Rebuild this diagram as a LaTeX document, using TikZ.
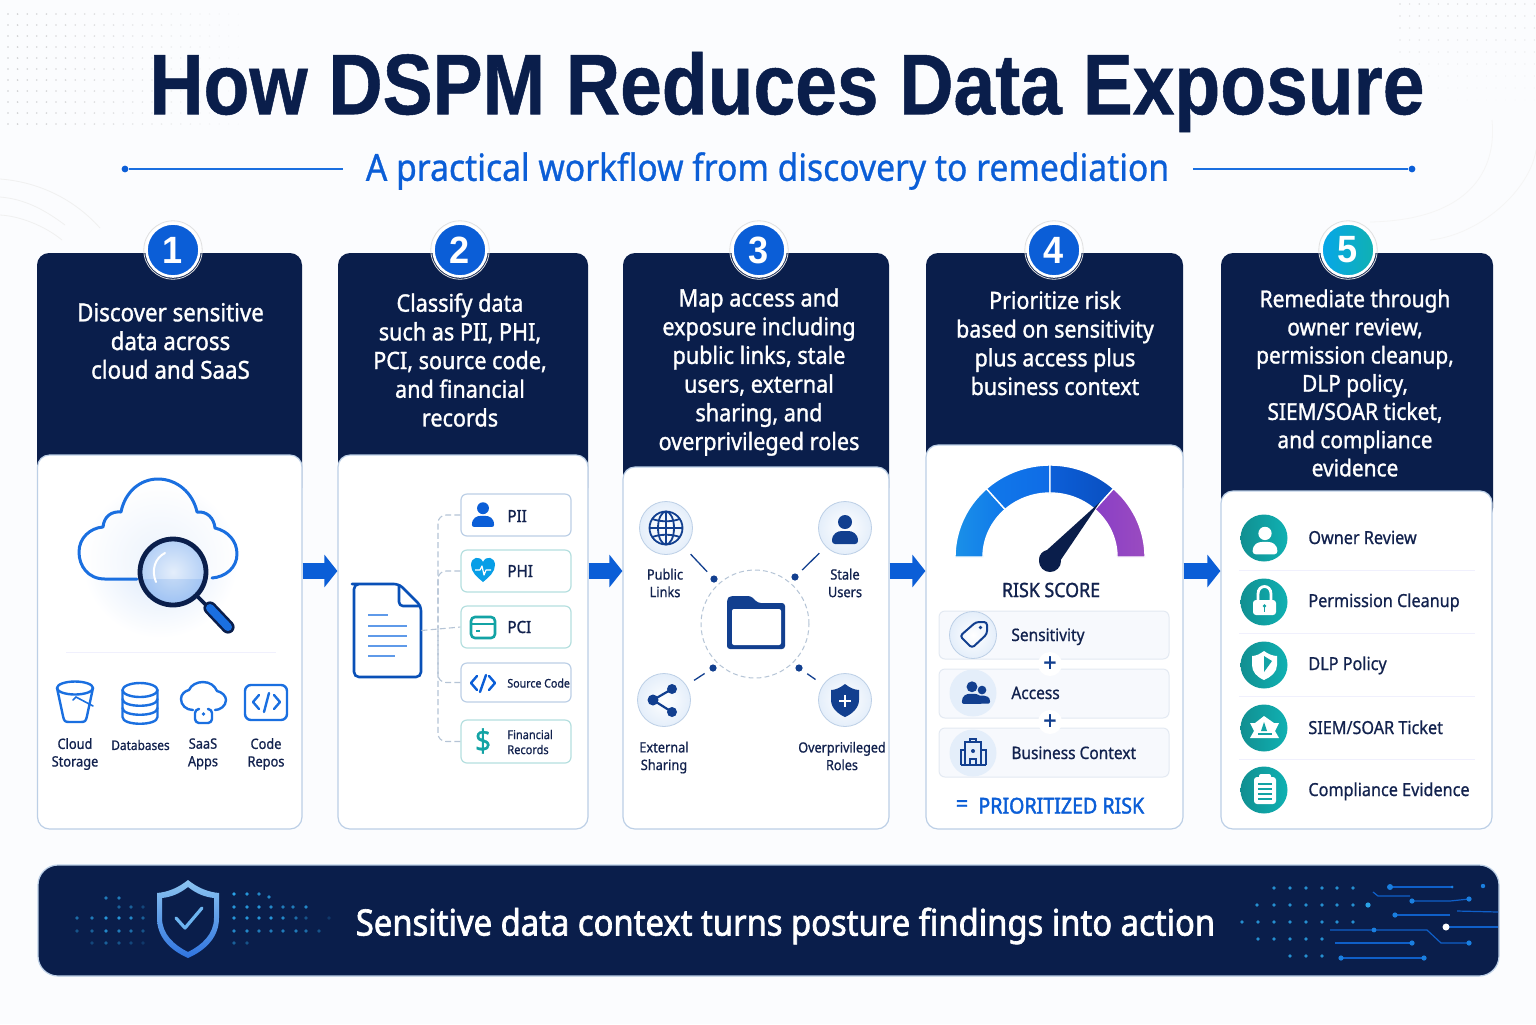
\documentclass[tikz,border=0pt]{standalone}
\usepackage{fontspec}
\usetikzlibrary{arrows.meta,fit,calc}
\newfontfamily\rf[FakeStretch=.9,FakeBold=.8]{Noto Sans}
\newfontfamily\mf[FakeStretch=.9,FakeBold=1.3]{Noto Sans}
\newfontfamily\hf[FakeStretch=.9,FakeBold=1.9]{Noto Sans}
\newfontfamily\tfam[FakeStretch=.872,FakeBold=.6]{Liberation Sans}
\newfontfamily\bfam[FakeStretch=.95]{Liberation Sans}
\definecolor{navy}{HTML}{0A1E4B}
\definecolor{ink}{HTML}{12224E}
\definecolor{blu}{HTML}{0B5ED7}
\definecolor{mid}{HTML}{1A6FE0}
\definecolor{deep}{HTML}{123F8F}
\definecolor{teal2}{HTML}{13A3A5}
\definecolor{edge}{HTML}{BCCFE6}
\definecolor{dashg}{HTML}{B5C4D6}
\definecolor{bg}{HTML}{FBFCFE}
\definecolor{pale}{HTML}{E4EEFA}
\definecolor{rowfill}{HTML}{F7F9FD}
\definecolor{rowedge}{HTML}{E3E9F2}
\definecolor{tealb}{HTML}{B5DFDF}
\definecolor{circ}{HTML}{0F5FC8}
\definecolor{circd}{HTML}{1A7FE0}
\definecolor{dotb}{HTML}{2AA3E8}
\definecolor{chk}{HTML}{6DB5F0}
\definecolor{shtop}{HTML}{8CC4F0}
\definecolor{shbot}{HTML}{2F74E0}
\definecolor{lensi}{HTML}{E4EEFB}
\definecolor{lenso}{HTML}{B4D0F6}
\definecolor{glow}{HTML}{D9E7FA}
\definecolor{gA}{HTML}{1A90E8}
\definecolor{gB}{HTML}{1078EA}
\definecolor{gC}{HTML}{0F6CE6}
\definecolor{gD}{HTML}{0C5FD8}
\definecolor{gE}{HTML}{0A4FC0}
\definecolor{gF}{HTML}{8A3FC6}
\definecolor{gG}{HTML}{9A4BC0}
\tikzset{
 x=0.5pt,y=-0.5pt,
 hdr/.style={inner sep=0pt,fill=navy,rounded corners=6pt},
 bodybox/.style={inner sep=0pt,fill=white,draw=edge,line width=.6pt,rounded corners=6pt},
 badge/.style={circle,minimum size=26.5pt,inner sep=0pt,draw=white,line width=1.3pt,text=white,font=\bfam\bfseries\fontsize{19}{21}\selectfont},
 ring/.style={draw=black!12,line width=.4pt},
 htext/.style={inner sep=0pt,align=center,text=white,font=\mf\fontsize{#1}{14.35}\selectfont},
 htext/.default=12.4,
 flow/.style={draw=blu,line width=8pt,-{Triangle[length=6.5pt,width=16pt]}},
 small/.style={inner sep=0pt,align=center,text=ink,font=\rf\fontsize{7.1}{8.8}\selectfont},
 rowt/.style={inner sep=0pt,anchor=base west,text=ink,font=\rf\fontsize{9}{11}\selectfont},
 ic/.style={line width=1.2pt,line cap=round,line join=round},
 tagbox/.style={inner sep=0pt,fill=white,line width=.6pt,rounded corners=3pt},
 dashc/.style={draw=dashg,line width=.55pt,dash pattern=on 3pt off 1.6pt,rounded corners=4pt},
 halo/.style={circle,inner sep=0pt,minimum size=26.5pt,draw=edge,line width=.4pt,inner color=white,outer color=pale},
 rowbox/.style={inner sep=0pt,fill=rowfill,draw=rowedge,line width=.5pt,rounded corners=3pt},
 tealc/.style={circle,inner sep=0pt,minimum size=23.5pt,left color=teal2!88!black,right color=teal2!85!cyan},
 spoke/.style={draw=deep,line width=.65pt,shorten <=4.5pt,shorten >=3pt},
 dott/.style={circle,inner sep=0pt,minimum size=3.6pt,fill=deep},
 sepl/.style={draw=black!14!blue!6!white,line width=.45pt},
 cline/.style={draw=circ,line width=.6pt},
}
\newcommand{\person}[5]{\begin{scope}[shift={(#1,#2)},scale=#3]
 \fill[#4] (0,-8) circle[radius=7];
 \fill[#4,rounded corners=#5] (-13,14) .. controls (-13,3) and (-7,1) .. (0,1) .. controls (7,1) and (13,3) .. (13,14) -- cycle;
\end{scope}}
\newcommand{\gseg}[4]{\shade[left color=#3,right color=#4,draw=white,line width=.7pt]
 plot[domain=#1:#2,samples=24] ({1050+95*cos(\x)},{557+92*sin(\x)}) --
 plot[domain=#2:#1,samples=24] ({1050+67*cos(\x)},{557+64*sin(\x)}) -- cycle;}
\begin{document}
\begin{tikzpicture}
\useasboundingbox (0,0) rectangle (1536,1024);
\fill[bg] (0,0) rectangle (1536,1024);
% --- faint background texture
\foreach \xx in {8,17.6,...,240}{\foreach \yy in {14,25,...,130}{
  \pgfmathsetmacro\op{max(0,.42*(1-\xx/250))}
  \fill[black!45,opacity=\op] (\xx,\yy) circle[radius=.9];}}
\foreach \xx in {1400,1409.6,...,1536}{\foreach \yy in {4,16,...,100}{
  \pgfmathsetmacro\op{max(0,.3*(1-\yy/105))}
  \fill[black!45,opacity=\op] (\xx,\yy) circle[radius=.8];}}
\draw[black!6,line width=.4pt] (0,179) .. controls (40,182) and (75,200) .. (100,228);
\draw[black!6,line width=.4pt] (0,197) .. controls (25,199) and (45,210) .. (65,225);
\draw[black!6,line width=.4pt] (0,215) .. controls (20,216) and (45,226) .. (62,240);
\draw[black!4,line width=.4pt] (1492,120) .. controls (1497,170) and (1470,220) .. (1370,222);
\draw[black!4,line width=.4pt] (1536,150) .. controls (1530,190) and (1480,235) .. (1430,240);
% --- title
\node[inner sep=0pt,text=navy,font=\tfam\bfseries\fontsize{43}{50}\selectfont] (title) at (787,92) {How DSPM Reduces Data Exposure};
\node[inner sep=0pt,text=blu,font=\rf\fontsize{18.7}{22}\selectfont] (sub) at (767.5,171) {A practical workflow from discovery to remediation};
\node[circle,fill=blu,inner sep=0pt,minimum size=3.4pt] (dl) at (125,169) {};
\node[circle,fill=blu,inner sep=0pt,minimum size=3.4pt] (dr) at (1412,169) {};
\coordinate (ll) at (343,169); \coordinate (lr) at (1193,169);
\draw[mid,line width=.6pt] (dl) -- (ll);
\draw[mid,line width=.6pt] (lr) -- (dr);
% --- cards
\node[hdr,fit={(37,253)(302,500)}] (h1) {};
\node[hdr,fit={(338,253)(588,500)}] (h2) {};
\node[hdr,fit={(623,253)(889,500)}] (h3) {};
\node[hdr,fit={(926,253)(1183,500)}] (h4) {};
\node[hdr,fit={(1221,253)(1493,520)}] (h5) {};
\node[bodybox,fit={(37.5,455)(302,829)}] (card1) {};
\node[bodybox,fit={(338,455)(588,829)}] (card2) {};
\node[bodybox,fit={(623,467)(889,829)}] (card3) {};
\node[bodybox,fit={(926,445)(1183,829)}] (card4) {};
\node[bodybox,fit={(1221,491)(1492,829)}] (card5) {};
\foreach \bx in {173,460,759,1054,1348}{
  \draw[ring] (\bx,250) circle[radius=29.2];
}
\node[badge,fill=blu] (b1) at (173,250) {1};
\node[badge,fill=blu] (b2) at (460,250) {2};
\node[badge,fill=blu] (b3) at (759,250) {3};
\node[badge,fill=blu] (b4) at (1054,250) {4};
\node[badge,left color=blu!55!cyan,right color=teal2!85!cyan] (b5) at (1348,250) {5};
\node[htext=12.4] (t1) at (170.5,341) {Discover sensitive\\data across\\cloud and SaaS};
\node[htext=12] (t2) at (460,360) {Classify data\\such as PII, PHI,\\PCI, source code,\\and financial\\records};
\node[htext=12] (t3) at (759,372) {Map access and\\exposure including\\public links, stale\\users, external\\sharing, and\\overprivileged roles};
\node[htext=11.9] (t4) at (1055,343) {Prioritize risk\\based on sensitivity\\plus access plus\\business context};
\node[htext=11.6,font=\mf\fontsize{11.6}{14.1}\selectfont] (t5) at (1355,383) {Remediate through\\owner review,\\permission cleanup,\\DLP policy,\\SIEM/SOAR ticket,\\and compliance\\evidence};
% --- arrows
\coordinate (ay) at (0,571);
\draw[flow] (card1.east |- ay) -- (card2.west |- ay);
\draw[flow] (card2.east |- ay) -- (card3.west |- ay);
\draw[flow] (card3.east |- ay) -- (card4.west |- ay);
\draw[flow] (card4.east |- ay) -- (card5.west |- ay);
% --- card 1 art
\shade[inner color=glow,outer color=white,draw=none] (160,560) circle[radius=78];
\fill[white,opacity=.5] (105,579) .. controls (88,579) and (79,566) .. (79,552) .. controls (79,538) and (90,528) .. (103,527) .. controls (104,516) and (112,511) .. (121,512) .. controls (125,492) and (140,479) .. (158,479) .. controls (177,479) and (193,493) .. (197,512) .. controls (207,511) and (214,518) .. (215,528) .. controls (228,531) and (237,541) .. (237,554) .. controls (237,568) and (225,577) .. (212,578) -- cycle;
\draw[mid,line width=1.5pt,line cap=round,line join=round] (137,579) -- (105,579) .. controls (88,579) and (79,566) .. (79,552) .. controls (79,538) and (90,528) .. (103,527) .. controls (104,516) and (112,511) .. (121,512) .. controls (125,492) and (140,479) .. (158,479) .. controls (177,479) and (193,493) .. (197,512) .. controls (207,511) and (214,518) .. (215,528) .. controls (228,531) and (237,541) .. (237,554) .. controls (237,568) and (225,577) .. (212,578);
\shade[inner color=lensi,outer color=lenso,draw=none] (173,572) circle[radius=32];
\fill[mid,opacity=.13] (143,579) -- (203,579) .. controls (200,592) and (188,604) .. (173,604) .. controls (158,604) and (146,592) .. (143,579) -- cycle;
\draw[white,line width=1pt,line cap=round] (165,553) .. controls (155,558) and (151,570) .. (156,582);
\draw[navy,line width=2.4pt] (173,572) circle[radius=33];
\draw[navy,line width=1.8pt] (197,596) -- (208,607);
\draw[navy,line width=6.6pt,line cap=round] (210,608) -- (228,627);
\draw[mid,line width=4pt,line cap=round] (210,608) -- (228,627);
\draw[sepl] (66,652) -- (276,652);
% bucket
\draw[mid,ic] (75,688) ellipse[x radius=18,y radius=6.5];
\draw[mid,ic] (57,688) -- (63,716) .. controls (64,721) and (65,722) .. (69,722) -- (81,722) .. controls (85,722) and (86,721) .. (87,716) -- (93,688);
\draw[mid,line width=.8pt,line cap=round] (73,700) -- (76,697) -- (93,706);
% database
\draw[mid,ic] (140,690) ellipse[x radius=17.5,y radius=7];
\draw[mid,ic] (122.5,690) -- (122.5,717) .. controls (122.5,726) and (157.5,726) .. (157.5,717) -- (157.5,690);
\draw[mid,ic] (122.5,699) .. controls (122.5,708) and (157.5,708) .. (157.5,699);
\draw[mid,ic] (122.5,708) .. controls (122.5,717) and (157.5,717) .. (157.5,708);
% saas
\draw[mid,ic] (193,710) .. controls (186,710) and (181,705) .. (181,699) .. controls (181,694) and (185,691) .. (189,690) .. controls (191,685) and (197,682) .. (203,682) .. controls (210,682) and (215,686) .. (217,691) .. controls (222,692) and (226,696) .. (226,700) .. controls (226,706) and (220,710) .. (215,710);
\draw[mid,ic,rounded corners=2pt] (198,709) -- (195,709) -- (195,723) -- (212,723) -- (212,709) -- (209,709);
\fill[mid] (203.5,714) circle[radius=1.8];
% code
\draw[mid,ic,rounded corners=3pt] (245,685) rectangle (287,720);
\draw[mid,ic] (259,695) -- (253,702) -- (259,709);
\draw[mid,ic] (274,695) -- (280,702) -- (274,709);
\draw[mid,ic] (269,693) -- (264,712);
\node[small] (c1) at (75,754) {Cloud\\Storage};
\node[small,font=\rf\fontsize{6.6}{8.8}\selectfont] (c2) at (140.5,745) {Databases};
\node[small] (c3) at (203,754) {SaaS\\Apps};
\node[small] (c4) at (266,754) {Code\\Repos};
% --- card 2 art
\node[inner sep=0pt,fit={(354,584)(421,677)}] (doc) {};
\draw[blu!85!black,line width=1.3pt,line join=round,rounded corners=2.5pt,fill=white] (399,584) -- (357,584) -- (354,584) -- (354,677) -- (421,677) -- (421,606) -- cycle;
\draw[blu!85!black,line width=1.3pt,line join=round,rounded corners=2pt] (399,584) -- (399,606) -- (421,606);
\foreach \yy/\xe in {615/388,626/407,636/407,646/407,656/395}{
  \draw[mid!70!white,line width=.7pt] (368,\yy) -- (\xe,\yy);}
\node[tagbox,draw=edge,fit={(461,494)(571,536)}] (pii) {};
\node[tagbox,draw=tealb,fit={(461,550)(571,592)}] (phi) {};
\node[tagbox,draw=tealb,fit={(461,606)(571,648)}] (pci) {};
\node[tagbox,draw=edge,fit={(461,663)(571,702)}] (src) {};
\node[tagbox,draw=tealb,fit={(461,720)(571,763)}] (fin) {};
\coordinate (tr) at (438,627);
\draw[dashc] (doc.east) -- (pci.west);
\draw[dashc] (pii.west) -| (tr);
\draw[dashc] (phi.west) -| (tr);
\draw[dashc] (src.west) -| (tr);
\draw[dashc] (fin.west) -| (tr);
\node[rowt,font=\mf\fontsize{8.4}{10}\selectfont] (lp1) at (507,522) {PII};
\node[rowt,font=\mf\fontsize{8.4}{10}\selectfont] (lp2) at (507,577) {PHI};
\node[rowt,font=\mf\fontsize{8.4}{10}\selectfont] (lp3) at (507,633) {PCI};
\node[rowt,font=\rf\fontsize{5.9}{7.5}\selectfont] (lp4) at (507,687.5) {Source Code};
\node[inner sep=0pt,align=left,text=ink,font=\rf\fontsize{6.1}{7.5}\selectfont,anchor=west] (lp5) at (507,742) {Financial\\Records};
\person{483}{515}{.85}{blu}{1pt}
\fill[blu!60!cyan] (483,582) .. controls (477,577) and (471,572) .. (471,565) .. controls (471,557) and (480,555) .. (483,562) .. controls (486,555) and (495,557) .. (495,565) .. controls (495,572) and (489,577) .. (483,582) -- cycle;
\draw[white,line width=.6pt,line join=round] (475,570) -- (480,570) -- (482,566) -- (484,575) -- (486,570) -- (491,570);
\draw[teal2,line width=1.3pt,rounded corners=2pt] (471,617) rectangle (495,638);
\draw[teal2,line width=1.3pt] (471,624) -- (495,624);
\draw[teal2,line width=1pt] (476,631) -- (480,631);
\draw[blu,ic] (477,676) -- (471,683) -- (477,690);
\draw[blu,ic] (489,676) -- (495,683) -- (489,690);
\draw[blu,ic] (486,675) -- (480,692);
\node[inner sep=0pt,text=teal2,font=\rf\fontsize{15.5}{18}\selectfont] (dol) at (483,741) {\$};
% --- card 3 art
\node[circle,inner sep=0pt,minimum size=54pt,draw=dashg,line width=.5pt,dash pattern=on 2.4pt off 1.6pt] (hub) at (755,624) {};
\fill[deep,rounded corners=1.5pt] (727,599) -- (727,649) -- (785,649) -- (785,603) -- (758,603) -- (751,596) -- (730,596) -- cycle;
\fill[white,rounded corners=1pt] (732,609) rectangle (781,645);
\node[halo] (pub) at (666,528) {};
\node[halo] (sta) at (845,528) {};
\node[halo] (ext) at (664,700) {};
\node[halo] (ovr) at (845,700) {};
\node[dott] (d1) at (714,579) {};
\node[dott] (d2) at (795,577) {};
\node[dott] (d3) at (713,668) {};
\node[dott] (d4) at (799,668) {};
\draw[spoke] (pub) -- (d1);
\draw[spoke] (sta) -- (d2);
\draw[spoke] (ext) -- (d3);
\draw[spoke] (ovr) -- (d4);
% globe
\begin{scope}[shift={(666,528)}]
\draw[deep,line width=.9pt] (0,0) circle[radius=16.5];
\draw[deep,line width=.9pt] (0,0) ellipse[x radius=8,y radius=16.5];
\draw[deep,line width=.9pt] (-16.5,0) -- (16.5,0) (0,-16.5) -- (0,16.5);
\draw[deep,line width=.9pt] (-13.5,-9) .. controls (-6,-6) and (6,-6) .. (13.5,-9);
\draw[deep,line width=.9pt] (-13.5,9) .. controls (-6,6) and (6,6) .. (13.5,9);
\end{scope}
\person{845}{530}{1}{deep}{1.5pt}
% share
\fill[deep] (653,700) circle[radius=5.5] (672,689) circle[radius=5] (672,712) circle[radius=5];
\draw[deep,line width=1.1pt] (672,689) -- (653,700) -- (672,712);
% shield plus
\fill[deep] (845,684) .. controls (850,688) and (855,690) .. (859,690) -- (859,700) .. controls (859,708) and (852,714) .. (845,717) .. controls (838,714) and (831,708) .. (831,700) -- (831,690) .. controls (835,690) and (840,688) .. (845,684) -- cycle;
\draw[white,line width=1pt] (845,695) -- (845,707) (839,701) -- (851,701);
\node[small] (p1) at (665,583) {Public\\Links};
\node[small] (p2) at (845,583) {Stale\\Users};
\node[small] (p3) at (664,757.5) {External\\Sharing};
\node[small,font=\rf\fontsize{7}{8.8}\selectfont] (p4) at (842,756) {Overprivileged\\Roles};
% --- card 4 art
\gseg{180}{228}{gA}{gB}
\gseg{228}{270}{gB}{gC}
\gseg{270}{312}{gD}{gE}
\gseg{312}{360}{gF}{gG}
\fill[navy] (1100,502) -- (1056,567) .. controls (1047,574) and (1040,568) .. (1039,560) .. controls (1039,554) and (1043,551) .. (1047,550) -- cycle;
\fill[navy] (1050,561) circle[radius=11];
\node[inner sep=0pt,text=ink,font=\mf\fontsize{9.9}{11}\selectfont] (rs) at (1051,590) {RISK SCORE};
\node[rowbox,fit={(939,611)(1169,659)}] (r1) {};
\node[rowbox,fit={(939,669)(1169,718)}] (r2) {};
\node[rowbox,fit={(939,728)(1169,777)}] (r3) {};
\node[circle,fill=white,inner sep=0pt,minimum size=12pt] (pl1) at (1050,664) {};
\node[circle,fill=white,inner sep=0pt,minimum size=12pt] (pl2) at (1050,722) {};
\node[inner sep=0pt,text=deep,font=\rf\fontsize{13}{14}\selectfont] (pt1) at (pl1) {+};
\node[inner sep=0pt,text=deep,font=\rf\fontsize{13}{14}\selectfont] (pt2) at (pl2) {+};
\node[circle,inner sep=0pt,minimum size=23.5pt,inner color=white,outer color=pale,draw=edge,line width=.4pt] (i1) at (973,635) {};
\node[circle,inner sep=0pt,minimum size=23.5pt,fill=pale] (i2) at (973,693) {};
\node[circle,inner sep=0pt,minimum size=23.5pt,fill=pale] (i3) at (973,753) {};
\draw[deep,line width=1pt,line join=round,rounded corners=1.5pt] (960,636) -- (976,622) -- (987,622) -- (987,634) -- (972,648) -- cycle;
\fill[deep] (980.5,627.5) circle[radius=1.8];
\person{982}{695}{.62}{deep}{1pt}
\fill[pale] (963,703) rectangle (977,682);
\person{972}{693}{.78}{deep}{1pt}
\begin{scope}[deep,line width=.8pt]
\draw (961,765) -- (986,765);
\draw (965,765) -- (965,742) -- (981,742) -- (981,765);
\draw (961,765) -- (961,750) -- (965,750) (981,750) -- (986,750) -- (986,765);
\draw (970,742) -- (970,739) -- (976,739) -- (976,742);
\draw (970,765) -- (970,759) -- (976,759) -- (976,765);
\fill (973,751) circle[radius=2];
\end{scope}
\node[rowt,font=\rf\fontsize{8.6}{11}\selectfont] (s1) at (1011,641) {Sensitivity};
\node[rowt,font=\rf\fontsize{8.6}{11}\selectfont] (s2) at (1011,699) {Access};
\node[rowt,font=\rf\fontsize{8.6}{11}\selectfont] (s3) at (1011,759) {Business Context};
\node[inner sep=0pt,text=blu,font=\mf\fontsize{12}{14}\selectfont] (eq) at (962,806) {=};
\node[inner sep=0pt,anchor=base west,text=blu,font=\hf\fontsize{10.9}{13}\selectfont] (pr) at (978,813.5) {PRIORITIZED RISK};
% --- card 5 art
\foreach \yy in {570,633,696,759}{\draw[sepl] (1239,\yy) -- (1475,\yy);}
\node[tealc] (o1) at (1264,538) {};
\node[tealc] (o2) at (1264,602) {};
\node[tealc] (o3) at (1264,665) {};
\node[tealc] (o4) at (1264,728) {};
\node[tealc] (o5) at (1264,790) {};
\person{1265}{541}{.95}{white}{1.5pt}
\fill[white,rounded corners=1.5pt] (1253,600) rectangle (1276,615);
\draw[white,line width=1.4pt] (1258,600) -- (1258,594) .. controls (1258,584) and (1271,584) .. (1271,594) -- (1271,600);
\fill[teal2] (1264.5,606) circle[radius=1.8];
\draw[teal2,line width=.7pt] (1264.5,606) -- (1264.5,612);
\fill[white] (1264,651) .. controls (1268,654) and (1273,656) .. (1277,656) -- (1277,665) .. controls (1277,672) and (1271,677) .. (1264,680) .. controls (1257,677) and (1252,672) .. (1252,665) -- (1252,656) .. controls (1256,656) and (1260,654) .. (1264,651) -- cycle;
\fill[teal2] (1264,656) -- (1272,661) -- (1264,672) -- cycle;
\fill[white] (1264,716) -- (1274,723) -- (1279,723) -- (1275,731) -- (1279,738) -- (1250,738) -- (1254,731) -- (1250,723) -- (1255,723) -- cycle;
\fill[teal2] (1264,722) -- (1267,731) -- (1261,731) -- cycle;
\draw[teal2,line width=.8pt] (1258,734) -- (1272,734);
\fill[white,rounded corners=1.5pt] (1254,777) rectangle (1276,804);
\fill[white,rounded corners=1pt] (1259,774) rectangle (1271,780);
\foreach \yy in {784,789,794,799}{\draw[teal2,line width=.7pt] (1258,\yy) -- (1272,\yy);}
\node[rowt] (a1) at (1308,544) {Owner Review};
\node[rowt] (a2) at (1308,607) {Permission Cleanup};
\node[rowt] (a3) at (1308,670) {DLP Policy};
\node[rowt] (a4) at (1308,734) {SIEM/SOAR Ticket};
\node[rowt] (a5) at (1308,796) {Compliance Evidence};
% --- banner
\node[inner sep=0pt,fit={(38,865)(1499,976)},fill=navy,draw=edge,line width=.6pt,rounded corners=10pt] (ban) {};
\node[inner sep=0pt,text=white,font=\hf\fontsize{18.2}{21}\selectfont] (bt) at (785.5,926) {Sensitive data context turns posture findings into action};
\foreach \xx/\yy/\op in {106/898/.7,119/898/.7,119/907/.5,131/907/.5,143/907/.3,
  77/918/.6,92/918/.7,106/918/.9,119/918/.9,131/918/.8,143/918/.5,
  77/931/.4,92/931/.5,106/931/.8,119/931/.7,131/931/.6,143/931/.4,
  92/943/.3,106/943/.5,119/943/.4,131/943/.3,143/943/.2,
  234/894/1,247/894/.9,259/894/.8,269/897/.8,
  234/907/.9,247/907/.9,259/907/.9,271/907/.8,283/907/.7,293/907/.7,306/907/.8,
  234/918/.9,247/918/.9,259/918/.9,271/918/.9,283/918/.8,296/918/.6,306/918/.4,329/918/.2,
  234/931/.8,247/931/.8,259/931/.7,271/931/.7,283/931/.7,296/931/.7,306/931/.6,319/931/.4,
  234/943/.5,247/943/.4}{
  \fill[dotb,opacity=\op] (\xx,\yy) circle[radius=1.8];}
\shade[top color=shtop,bottom color=shbot,even odd rule]
  (188,880) .. controls (178,888) and (168,892) .. (157,893) -- (157,918) .. controls (157,937) and (170,950) .. (188,958) .. controls (206,950) and (219,937) .. (219,918) -- (219,893) .. controls (208,892) and (198,888) .. (188,880) -- cycle
  (188,887) .. controls (179,894) and (171,897) .. (162,898) -- (162,918) .. controls (162,934) and (174,945) .. (188,952) .. controls (202,945) and (214,934) .. (214,918) -- (214,898) .. controls (205,897) and (197,894) .. (188,887) -- cycle;
\draw[chk,line width=1.6pt,line cap=round,line join=round] (176,918) -- (185,928) -- (202,908);
\foreach \yy/\xs in {888/{1274,1290,1306,1322,1337,1353},905/{1257,1274,1290,1306,1322,1337,1353},922/{1242,1258,1274,1290,1306,1322,1337,1353},939/{1258,1274,1290,1306,1322},956/{1290,1306,1322}}{
  \foreach \xx in \xs {\fill[dotb,opacity=.85] (\xx,\yy) circle[radius=1.8];}}
\fill[dotb] (1368,905) circle[radius=2.6];
\draw[cline] (1390,887) -- (1452,887);
\draw[cline] (1373,892) -- (1378,896) -- (1410,896);
\draw[cline] (1412,901) -- (1450,901) -- (1469,899);
\draw[cline] (1395,915) -- (1450,915);
\draw[cline] (1457,911) -- (1498,912);
\draw[cline] (1446,927) -- (1498,927);
\draw[cline] (1330,930) -- (1427,930) -- (1441,943) -- (1469,943);
\draw[cline] (1335,943) -- (1412,943);
\draw[cline] (1341,958) -- (1424,958);
\foreach \xx/\yy/\rr in {1390/887/3,1452/887/1.5,1483/886/2.2,1412/901/2.6,1469/899/2.6,1395/915/2.6,1374/930/2.4,1469/943/2.6,1412/943/2.6,1341/958/2.6,1424/958/2.6}{
  \fill[circd] (\xx,\yy) circle[radius=\rr];}
\fill[white] (1446,927) circle[radius=3.5];
\end{tikzpicture}
\end{document}
